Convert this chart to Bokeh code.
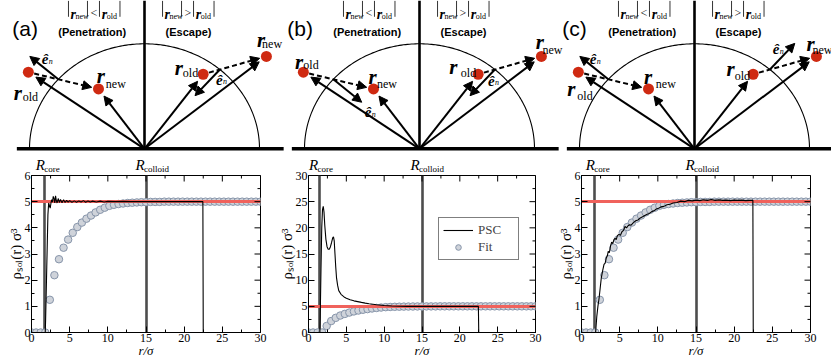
import math
from bokeh.plotting import figure
from bokeh.layouts import row, column
from bokeh.models import (Range1d, SingleIntervalTicker, Label, Arrow, NormalHead,
                          Legend, LegendItem)
from bokeh.embed import file_html
from bokeh.resources import INLINE

# ------------------------------------------------------------------ data
r_max = 30.0
rho_bulk = 5.0
r_colloid = 15.0
r_core = [1.75, 1.5, 1.75]          # panels a, b, c
y_max = [6, 30, 6]
y_step = [1, 5, 1]
x_step = 5

fit_r = [0.0, 0.6, 1.2, 1.8, 2.4, 3.0, 3.6, 4.2, 4.8, 5.4, 6.0, 6.6, 7.2, 7.8, 8.4,
         9.0, 9.6, 10.2, 10.8, 11.4, 12.0, 12.6, 13.2, 13.8, 14.4, 15.0, 15.6, 16.2,
         16.8, 17.4, 18.0, 18.6, 19.2, 19.8, 20.4, 21.0, 21.6, 22.2, 22.8, 23.4, 24.0,
         24.6, 25.2, 25.8, 26.4, 27.0, 27.6, 28.2, 28.8, 29.4, 30.0]
fit_rho = [0.0, 0.0, 0.0, 0.0, 1.25, 2.19, 2.80, 3.24, 3.55, 3.81, 4.03, 4.20, 4.35,
           4.47, 4.59, 4.69, 4.77, 4.84, 4.88, 4.91, 4.93, 4.95, 4.96, 4.97, 4.98, 4.98,
           4.99, 4.99, 4.99, 5.0, 5.0, 5.0, 5.0, 5.0, 5.0, 5.0, 5.0, 5.0, 5.0, 5.0, 5.0,
           5.0, 5.0, 5.0, 5.0, 5.0, 5.0, 5.0, 5.0, 5.0, 5.0]

psc_a_r = [0.0, 1.8, 1.85, 2.0, 2.15, 2.25, 2.35, 2.45, 2.55, 2.65, 2.75, 2.85, 2.95,
           3.05, 3.15, 3.25, 3.35, 3.5, 3.65, 3.8, 4.0, 4.2, 4.4, 4.6, 4.8, 5.0, 5.3,
           5.6, 5.9, 6.2, 6.5, 6.8, 7.1, 7.4, 7.7, 8.0, 8.5, 9.0, 9.5, 10.0, 11.0, 12.0,
           13.0, 15.0, 22.45, 22.5, 30.0]
psc_a_rho = [0.0, 0.0, 0.5, 2.5, 4.5, 4.95, 4.85, 4.75, 4.95, 5.08, 4.98, 5.2, 5.12,
             4.95, 5.22, 5.05, 4.95, 5.12, 4.97, 5.08, 4.96, 5.07, 4.97, 5.05, 4.98, 5.04,
             4.98, 5.03, 4.98, 5.03, 4.99, 5.04, 4.98, 5.03, 4.99, 5.02, 4.99, 5.02, 4.99,
             5.01, 5.0, 5.01, 5.0, 5.0, 5.0, 0.0, 0.0]

psc_b_r = [0.0, 1.5, 1.55, 1.65, 1.75, 1.85, 1.95, 2.05, 2.15, 2.3, 2.45, 2.6, 2.75,
           2.9, 3.05, 3.2, 3.3, 3.4, 3.5, 3.6, 3.7, 3.85, 4.0, 4.3, 4.7, 5.0, 5.5, 6.0,
           6.5, 7.0, 7.5, 8.0, 9.0, 10.0, 11.0, 12.0, 13.0, 15.0, 22.45, 22.5, 30.0]
psc_b_rho = [0.0, 0.0, 3.0, 12.0, 20.0, 23.5, 24.1, 23.0, 20.5, 17.8, 16.4, 15.9, 15.9,
             16.4, 17.2, 18.1, 18.3, 17.5, 15.0, 12.5, 10.5, 9.0, 8.0, 7.3, 6.8, 6.55,
             6.25, 6.05, 5.9, 5.75, 5.62, 5.5, 5.3, 5.15, 5.06, 5.02, 5.0, 5.0, 5.0, 0.0,
             0.0]

psc_c_r = [0.0, 1.85, 2.0, 2.15, 2.3, 2.45, 2.6, 2.8, 2.95, 3.1, 3.25, 3.4, 3.5, 3.65,
           3.8, 3.95, 4.1, 4.25, 4.4, 4.55, 4.7, 4.9, 5.1, 5.3, 5.5, 5.7, 5.9, 6.1, 6.3,
           6.5, 6.8, 7.1, 7.4, 7.7, 8.0, 8.3, 8.6, 8.9, 9.2, 9.5, 9.8, 10.1, 10.4, 10.8,
           11.2, 11.6, 12.0, 12.5, 13.0, 13.5, 14.0, 14.5, 15.0, 15.5, 16.0, 16.5, 17.0,
           17.5, 18.0, 18.5, 19.0, 19.5, 20.0, 20.5, 21.0, 21.5, 22.0, 22.45, 22.5, 30.0]
psc_c_rho = [0.0, 0.0, 0.6, 1.0, 1.3, 1.7, 2.1, 2.4, 2.6, 2.65, 2.85, 2.95, 3.1, 3.05,
             3.3, 3.45, 3.4, 3.55, 3.6, 3.55, 3.7, 3.75, 3.72, 3.85, 3.9, 4.05, 4.0, 4.08,
             4.12, 4.1, 4.2, 4.27, 4.3, 4.38, 4.42, 4.47, 4.52, 4.55, 4.62, 4.65, 4.72,
             4.75, 4.8, 4.82, 4.88, 4.9, 4.95, 4.97, 5.02, 5.0, 5.05, 5.03, 5.06, 5.04,
             5.07, 5.05, 5.08, 5.05, 5.07, 5.05, 5.06, 5.04, 5.06, 5.05, 5.06, 5.04, 5.05,
             5.05, 0.0, 0.0]

# schematic (colloid radius = 1, centre of the colloid at the origin)
pen_old = (-1.01, 0.73)
pen_new = (-0.40, 0.57)
esc_old = (0.51, 0.71)
esc_new = (1.06, 0.88)
# direction of e_n at the surface crossing: +1 outward, -1 inward (penetration, escape)
en_dir = [(1, -1), (-1, -1), (1, 1)]
panel_tags = ["(a)", "(b)", "(c)"]

# ------------------------------------------------------------------ layout
COLW = [275, 275, 281]
COL0 = [0, 275, 550]
FRAME_L, FRAME_W = 31, 229
CXD = 144.0                          # px of the colloid centre inside a column
DH = 175
OVERLAP = 7
PH = 360 - DH + OVERLAP
SX = 115.0
SY = 105.0
BASE_PX = 148.3
Y_TOP = BASE_PX / SY
Y_BOT = Y_TOP - DH / SY
SERIF = "Liberation Serif"
SANS = "Liberation Sans"
RED = "#cf2a12"

lab_off = [
    {"po": ((-14.7, 21), (-5.7, 25)), "pn": ((-1.7, -12.7), (7.3, -4.7)),
     "eo": ((-28.3, -6.3), (-20.3, -1.3)), "en": ((-9.3, -16), (-4.3, -12)),
     "ep": (12, 3), "ee": (21, -16)},
    {"po": ((-8.3, -10), (0, -6.7)), "pn": ((-5, -11.6), (3.4, -5)),
     "eo": ((-29, -7), (-17.3, -1.6)), "en": ((-5.7, -14.3), (1, -6)),
     "ep": (3, 10), "ee": (18, -15)},
    {"po": ((-11, 17), (-1, 24)), "pn": ((-4.4, -11.6), (7.3, -5)),
     "eo": ((-26.7, -5), (-18.4, 1.7)), "en": ((-10, -12.7), (-4, -6)),
     "ep": (10, 3), "ee": (-22, 6)},
]


def put(fig, x, y, text, dx, dy, size, style="normal", font=SERIF, align="left",
        baseline="alphabetic"):
    fig.add_layout(Label(x=x, y=y, x_offset=dx, y_offset=-dy, text=text,
                         text_font=font, text_font_size=f"{size}px",
                         text_font_style=style, text_align=align,
                         text_baseline=baseline, text_color="black"))


def shorten(p0, p1, g0, g1):
    dx = (p1[0] - p0[0]) * SX
    dy = (p1[1] - p0[1]) * SY
    L = math.hypot(dx, dy)
    a, b = g0 / L, 1 - g1 / L
    return ((p0[0] + (p1[0] - p0[0]) * a, p0[1] + (p1[1] - p0[1]) * a),
            (p0[0] + (p1[0] - p0[0]) * b, p0[1] + (p1[1] - p0[1]) * b))


def crossing(p0, p1):
    d = (p1[0] - p0[0], p1[1] - p0[1])
    a = d[0] ** 2 + d[1] ** 2
    b = 2 * (p0[0] * d[0] + p0[1] * d[1])
    c = p0[0] ** 2 + p0[1] ** 2 - 1
    disc = math.sqrt(b * b - 4 * a * c)
    for t in ((-b - disc) / (2 * a), (-b + disc) / (2 * a)):
        if 0 <= t <= 1:
            return (p0[0] + t * d[0], p0[1] + t * d[1])
    return p0


def arrow(fig, s, e, dash="solid", lw=2.0, size=9):
    fig.add_layout(Arrow(end=NormalHead(size=size, fill_color="black", line_color="black",
                                        line_width=1),
                         x_start=s[0], y_start=s[1], x_end=e[0], y_end=e[1],
                         line_width=lw, line_color="black", line_dash=dash))


def header(fig, xc, y, sub1, op, sub2):
    # vertical bars of |r|
    bars = [-26.0, -7.0, 5.0, 25.5]
    fig.segment(x0=[xc + b / SX for b in bars], y0=[y - 2.7 / SY] * 4,
                x1=[xc + b / SX for b in bars], y1=[y + 13.3 / SY] * 4,
                line_color="black", line_width=0.8)
    pieces = [("r", -24.0, 0, 14, "bold italic"), (sub1, -19.0, 2.7, 8, "normal"),
              (op, -4.0, -1, 12, "normal"),
              ("r", 7.2, 0, 14, "bold italic"), (sub2, 12.2, 2.7, 8, "normal")]
    for t, dx, dy, sz, st in pieces:
        put(fig, xc, y, t, dx, dy, sz, st)


def diagrams():
    W = sum(COLW)
    d = figure(width=W, height=DH, x_range=Range1d(-CXD / SX, (W - CXD) / SX),
               y_range=Range1d(Y_BOT, Y_TOP), output_backend="svg",
               toolbar_location=None, x_axis_type=None, y_axis_type=None,
               min_border=0)
    d.grid.visible = False
    d.outline_line_color = None
    ang = [k * math.pi / 180 for k in range(181)]
    for i in range(3):
        o = COL0[i] / SX

        def P(pt):
            return (pt[0] + o, pt[1])

        d.line([math.cos(a) + o for a in ang], [math.sin(a) for a in ang],
               line_color="black", line_width=1.1)
        d.segment(x0=[o], y0=[0], x1=[o], y1=[Y_TOP], line_color="black", line_width=2.6)
        d.segment(x0=[o - 1.11], y0=[0], x1=[o + 1.21], y1=[0], line_color="black",
                  line_width=3.5)
        for pt in (pen_old, pen_new, esc_old, esc_new):
            s, e = shorten((o, 0), P(pt), 0, 9)
            arrow(d, s, e)
        for a_, b_ in ((pen_old, pen_new), (esc_old, esc_new)):
            s, e = shorten(P(a_), P(b_), 6, 7)
            arrow(d, s, e, dash="5 3")
        heads = []
        for (a_, b_), sgn in zip(((pen_old, pen_new), (esc_old, esc_new)), en_dir[i]):
            c = crossing(a_, b_)
            L = 0.33
            s = (c[0] + o, c[1])
            e = (c[0] * (1 + sgn * L) + o, c[1] * (1 + sgn * L))
            arrow(d, s, e)
            heads.append(e)
        d.scatter([pen_old[0] + o, pen_new[0] + o, esc_old[0] + o, esc_new[0] + o],
                  [pen_old[1], pen_new[1], esc_old[1], esc_new[1]],
                  size=11, fill_color=RED, line_color=None)
        lo = lab_off[i]
        for key, pt, sub in (("po", pen_old, "old"), ("pn", pen_new, "new"),
                             ("eo", esc_old, "old"), ("en", esc_new, "new")):
            (rx, ry), (sx, sy) = lo[key]
            put(d, pt[0] + o, pt[1], "r", rx, ry, 21, "bold italic")
            put(d, pt[0] + o, pt[1], sub, sx, sy, 12)
        for key, h in (("ep", heads[0]), ("ee", heads[1])):
            dx, dy = lo[key]
            put(d, h[0], h[1], "ê", dx, dy, 15, "bold italic")
            put(d, h[0], h[1], "n", dx + 7, dy + 2, 8, "italic")
        header(d, o - 0.435, 1.283, "new", "<", "old")
        header(d, o + 0.383, 1.283, "new", ">", "old")
        put(d, o - 0.455, 1.114, "(Penetration)", 0, 0, 11, "bold", SANS, "center")
        put(d, o + 0.383, 1.114, "(Escape)", 0, 0, 11, "bold", SANS, "center")
        put(d, o - 1.15, 1.143, panel_tags[i], 0, 0, 21, "normal", SANS)
        # labels of the two special radii, just above each density plot
        for rx, sub, dx in ((r_core[i], "core", -9), (r_colloid, "colloid", -10.5)):
            xr = o + (FRAME_L + rx / r_max * FRAME_W - CXD) / SX
            put(d, xr, 0, "R", dx, 8.0, 15, "italic", baseline="top")
            put(d, xr, 0, sub, dx + 8.5, 15.0, 9, baseline="top")
    return d


def density(i, w, psc_r, psc_rho, legend):
    rb = w - FRAME_L - FRAME_W
    p = figure(width=w, height=PH, x_range=Range1d(0, r_max),
               y_range=Range1d(0, y_max[i]), output_backend="svg",
               toolbar_location=None, min_border_left=FRAME_L, min_border_right=rb,
               min_border_top=OVERLAP, min_border_bottom=4)
    p.grid.visible = False
    p.border_fill_color = None
    p.outline_line_color = "black"
    p.vspan(x=[r_core[i], r_colloid], line_color="#4d4d4d", line_width=2.6)
    fit = p.scatter(fit_r, fit_rho, size=7.5, fill_color="#cfd3da",
                    line_color="#8795aa", line_width=1)
    p.hspan(y=[rho_bulk], line_color="#f0625c", line_width=3)
    psc = p.line(psc_r, psc_rho, line_color="black", line_width=1.1)

    # mirrored ticks on the top and right frame edges
    xt = [k * x_step for k in range(int(r_max / x_step) + 1)]
    xm = [v + x_step / 2 for v in xt[:-1]]
    yt = [k * y_step[i] for k in range(int(y_max[i] / y_step[i]) + 1)]
    ym = [v + y_step[i] / 2 for v in yt[:-1]]
    p.scatter(xt, [y_max[i]] * len(xt), marker="dash", angle=math.pi / 2, size=12,
              line_color="black", line_width=1)
    p.scatter(xm, [y_max[i]] * len(xm), marker="dash", angle=math.pi / 2, size=6,
              line_color="black", line_width=1)
    p.scatter([r_max] * len(yt), yt, marker="dash", size=12, line_color="black",
              line_width=1)
    p.scatter([r_max] * len(ym), ym, marker="dash", size=6, line_color="black",
              line_width=1)

    p.xaxis.ticker = SingleIntervalTicker(interval=x_step, num_minor_ticks=2)
    p.yaxis.ticker = SingleIntervalTicker(interval=y_step[i], num_minor_ticks=2)
    p.xaxis.axis_label = "r/σ"
    p.yaxis.axis_label = "ρₛₒₗ(r) σ³"
    for ax in (p.xaxis[0], p.yaxis[0]):
        ax.major_tick_in = 6
        ax.major_tick_out = 0
        ax.minor_tick_in = 3
        ax.minor_tick_out = 0
        ax.axis_line_color = "black"
        ax.major_label_text_font = SERIF
        ax.major_label_text_font_size = "12px"
        ax.major_label_text_color = "black"
        ax.major_label_standoff = 1
        ax.axis_label_text_font = SERIF
        ax.axis_label_text_color = "black"
        ax.axis_label_standoff = -2
    p.xaxis.axis_label_text_font_size = "13px"
    p.xaxis.axis_label_text_font_style = "italic"
    p.yaxis.axis_label_text_font_size = "15px"
    p.yaxis.axis_label_text_font_style = "normal"

    if legend:
        lg = Legend(items=[LegendItem(label="PSC", renderers=[psc]),
                           LegendItem(label="Fit", renderers=[fit])],
                    location=(130, 72), label_text_font=SERIF,
                    label_text_font_size="13px", border_line_color="black",
                    border_line_width=1, background_fill_alpha=1, padding=4,
                    spacing=1, glyph_width=30, glyph_height=14, label_height=14,
                    label_width=36, label_standoff=5, margin=0)
        p.add_layout(lg)
    return p


psc_sets = [(psc_a_r, psc_a_rho), (psc_b_r, psc_b_rho), (psc_c_r, psc_c_rho)]
plots = [density(i, COLW[i], psc_sets[i][0], psc_sets[i][1], i == 1) for i in range(3)]
plot_row = row(*plots, spacing=0, styles={"margin-top": f"-{OVERLAP}px"})
layout = column(diagrams(), plot_row, spacing=0)

open("out.html", "w").write(file_html(layout, INLINE))
